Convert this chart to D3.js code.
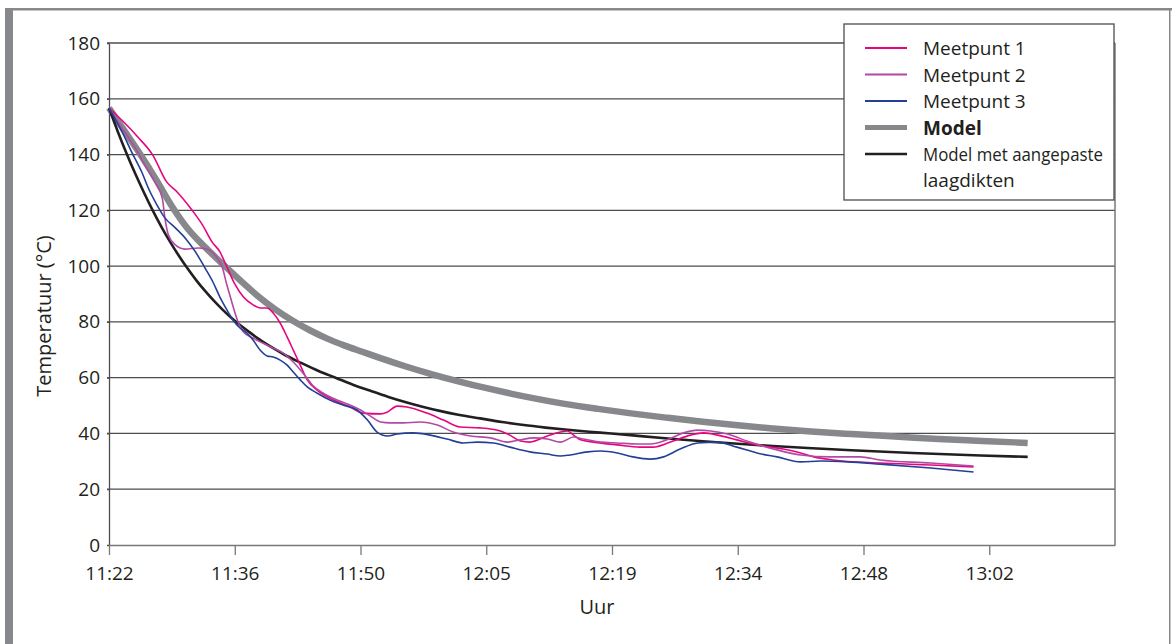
<!DOCTYPE html>
<html>
<head>
<meta charset="utf-8">
<script src="https://cdn.jsdelivr.net/npm/d3@7/dist/d3.min.js"></script>
<style>
    html, body { margin: 0; padding: 0; background: #fff; }
    svg { display: block; font-family: "Open Sans", "Noto Sans", sans-serif; }
</style>
</head>
<body>
<div id="chart"></div>
<script>
// x = minutes after 11:22, y = temperature in degrees C

const tickLabels = ["11:22", "11:36", "11:50", "12:05", "12:19", "12:34", "12:48", "13:02"];
const yTicks = [0, 20, 40, 60, 80, 100, 120, 140, 160, 180];

const meetpunt1 = [[0,156.7],[1.8,151.3],[3.3,146.3],[5.0,139.9],[6.6,130.2],[7.8,126.6],[9.5,120.1],[10.7,114.8],[11.8,108.7],[12.7,105.1],[13.5,99.7],[14.4,93.6],[15.4,88.9],[16.5,86.1],[17.3,85.0],[18.1,85.0],[18.8,83.2],[19.6,79.6],[20.4,74.6],[21.1,69.9],[21.9,64.5],[22.7,59.2],[23.8,55.6],[25.7,52.0],[27.6,49.5],[29.1,47.3],[31.1,47.0],[31.9,47.7],[33.0,49.8],[34.1,49.5],[36.4,47.3],[38.3,44.8],[40.2,42.3],[42.5,42.0],[44.8,40.9],[45.9,39.4],[47.1,37.3],[48.2,36.9],[50.2,39.1],[51.7,40.5],[52.5,40.9],[53.2,39.4],[54.0,37.7],[55.5,36.9],[58.2,35.9],[60.8,35.1],[62.3,35.1],[64.3,36.9],[66.6,39.4],[68.1,40.2],[69.7,39.4],[71.9,37.7],[74.2,35.9],[77.2,34.4],[79.2,33.0],[80.7,31.6],[82.9,30.5],[88.3,29.4],[94.1,28.7],[99.0,28.0]];

const meetpunt2 = [[0,156.7],[1.5,149.5],[3.0,142.4],[4.1,136.3],[5.3,129.8],[6.1,124.4],[6.4,117.3],[6.8,111.2],[7.6,107.6],[8.7,106.1],[10.2,106.5],[11.2,106.1],[12.1,104.0],[13.0,99.3],[13.5,93.2],[13.9,88.9],[14.7,80.7],[15.4,76.4],[16.5,74.2],[17.6,72.4],[18.8,70.6],[19.9,68.9],[21.1,65.6],[22.2,61.7],[23.4,57.0],[24.5,54.5],[26.1,52.0],[27.6,50.2],[28.8,48.4],[29.9,46.3],[31.1,44.1],[32.2,43.8],[33.7,43.8],[35.6,44.1],[37.6,43.0],[39.4,40.5],[41.4,39.1],[43.7,38.4],[45.6,36.9],[47.1,37.7],[48.6,38.4],[50.2,38.0],[51.7,36.9],[53.2,38.7],[54.3,38.0],[56.3,36.9],[58.2,36.6],[60.5,36.2],[62.0,36.2],[63.9,37.7],[65.8,40.2],[67.4,41.2],[68.9,40.9],[70.8,39.8],[73.4,36.9],[76.5,34.1],[79.2,32.3],[82.6,31.6],[86.0,31.6],[88.3,30.5],[94.1,29.4],[99.0,28.3]];

const meetpunt3 = [[0,156.7],[1.5,148.1],[2.6,140.9],[3.8,133.4],[4.5,128.0],[5.5,121.9],[6.4,117.3],[7.6,113.7],[8.9,109.4],[9.9,105.1],[11.0,99.3],[11.9,94.3],[12.7,88.9],[13.5,84.3],[14.2,80.7],[15.0,77.8],[15.8,76.0],[16.5,73.5],[17.3,69.9],[18.1,67.8],[18.8,67.4],[19.6,66.3],[20.4,64.5],[21.1,62.0],[21.9,59.2],[22.7,56.7],[23.8,54.5],[25.3,52.0],[26.8,50.2],[28.4,48.4],[29.6,44.8],[30.7,40.5],[31.9,39.1],[33.0,39.8],[34.8,40.2],[36.8,39.4],[38.7,38.0],[40.6,36.6],[42.2,36.9],[44.0,36.6],[45.9,35.1],[48.2,33.4],[50.2,32.6],[51.7,31.9],[52.8,32.3],[54.8,33.4],[56.3,33.7],[58.2,33.0],[60.0,31.6],[62.0,30.8],[63.5,31.6],[65.4,34.4],[67.4,36.6],[69.7,36.9],[71.9,35.1],[74.2,33.0],[76.5,31.6],[79.2,29.8],[81.5,30.1],[84.6,29.8],[88.3,29.0],[94.1,27.6],[99.0,26.2]];

const model = [[0,156.7],[1.8,148.4],[3.6,140.0],[5.4,131.0],[7.2,121.5],[9.0,113.5],[11.0,106.8],[13.0,100.8],[15.0,95.0],[17.0,89.4],[19.0,84.6],[21.0,80.5],[23.0,77.0],[25.0,74.0],[27.0,71.5],[29.0,69.3],[31.0,67.1],[34.0,64.0],[37.0,61.2],[40.0,58.7],[43.0,56.4],[46.0,54.3],[49.0,52.4],[52.0,50.7],[56.0,48.8],[60.0,47.1],[64.0,45.6],[68.0,44.2],[72.0,42.9],[76.0,41.8],[80.0,40.8],[85.0,39.8],[90.0,38.9],[95.0,38.0],[100.0,37.3],[105.2,36.6]];

const modelAangepast = [[0,156.7],[1,148.3],[2,140.5],[3,133.2],[4,126.4],[5,120.0],[6,114.1],[7,108.7],[8,103.7],[9,99.1],[10,94.9],[11,91.1],[12,87.6],[13,84.4],[14,81.5],[15,78.9],[16,76.5],[17,74.2],[18,72.1],[19,70.2],[20,68.4],[22,65.3],[24,62.4],[26,59.9],[28,57.4],[30,55.2],[32,53.1],[34,51.2],[36,49.5],[38,48.0],[40,46.7],[42.5,45.4],[45,44.1],[47.5,43.0],[50,42.1],[52.5,41.3],[55,40.6],[57.5,40.0],[60,39.3],[64,38.2],[68,37.2],[72,36.3],[76,35.5],[80,34.8],[85,34.0],[92,33.0],[99.8,32.1],[105.2,31.6]];

const seriesNames = ["Meetpunt 1", "Meetpunt 2", "Meetpunt 3", "Model", "Model met aangepaste laagdikten"];

const width = 1176;
const height = 644;
const plot = { left: 109, right: 1115, top: 43, bottom: 545 };
const tickStep = 14.4; // excel major unit 0.01 day

const series = [
    { name: seriesNames[3], data: model, color: "#87888b", width: 6.5, bold: true },
    { name: seriesNames[4], data: modelAangepast, color: "#231f20", width: 2.6 },
    { name: seriesNames[0], data: meetpunt1, color: "#e5067f", width: 1.6 },
    { name: seriesNames[1], data: meetpunt2, color: "#b04aa5", width: 1.6 },
    { name: seriesNames[2], data: meetpunt3, color: "#233f96", width: 1.6 }
];

const svg = d3.select("#chart").append("svg")
    .attr("width", width)
    .attr("height", height);

// outer frame
svg.append("rect").attr("x", 5).attr("y", 8).attr("width", 8).attr("height", height).attr("fill", "#87888b");
svg.append("rect").attr("x", 5).attr("y", 8).attr("width", 1167).attr("height", 2.5).attr("fill", "#87888b");
svg.append("rect").attr("x", 1169).attr("y", 8).attr("width", 1.5).attr("height", height).attr("fill", "#87888b");

const x = d3.scaleLinear().domain([0, tickStep * 8]).range([plot.left, plot.right]);
const y = d3.scaleLinear().domain([0, 180]).range([plot.bottom, plot.top]);

// gridlines
svg.append("g")
    .selectAll("line")
    .data(yTicks.filter(d => d > 0))
    .join("line")
    .attr("x1", plot.left - 2)
    .attr("x2", plot.right)
    .attr("y1", d => y(d))
    .attr("y2", d => y(d))
    .attr("stroke", "#4d4d4f")
    .attr("stroke-width", 1.3);

// right border
svg.append("line")
    .attr("x1", plot.right).attr("x2", plot.right)
    .attr("y1", plot.top).attr("y2", plot.bottom)
    .attr("stroke", "#77787b").attr("stroke-width", 1.5);

// y axis
const yAxis = svg.append("g")
    .attr("transform", `translate(${plot.left},0)`)
    .call(d3.axisLeft(y).tickValues(yTicks).tickSize(2).tickSizeOuter(0).tickPadding(7));
yAxis.select(".domain").attr("stroke", "#4d4d4f").attr("stroke-width", 1.3);
yAxis.selectAll(".tick line").attr("stroke", "#4d4d4f").attr("stroke-width", 1.3);
yAxis.selectAll(".tick text")
    .attr("font-size", 19)
    .attr("font-family", "'Open Sans', sans-serif")
    .attr("fill", "#231f20");

// x axis
const xAxis = svg.append("g")
    .attr("transform", `translate(0,${plot.bottom})`)
    .call(d3.axisBottom(x)
        .tickValues(d3.range(tickLabels.length).map(i => i * tickStep))
        .tickFormat((d, i) => tickLabels[i])
        .tickSize(10).tickSizeOuter(0).tickPadding(12));
xAxis.select(".domain").attr("stroke", "#77787b").attr("stroke-width", 1.5);
xAxis.selectAll(".tick line").attr("stroke", "#77787b").attr("stroke-width", 1.3);
xAxis.selectAll(".tick text")
    .attr("font-size", 19)
    .attr("font-family", "'Open Sans', sans-serif")
    .attr("fill", "#231f20");

// axis titles
svg.append("text")
    .attr("transform", `translate(51,${(plot.top + plot.bottom) / 2 + 22}) rotate(-90)`)
    .attr("text-anchor", "middle")
    .attr("font-size", 20)
    .attr("fill", "#231f20")
    .text("Temperatuur (°C)");

svg.append("text")
    .attr("x", 597)
    .attr("y", 614)
    .attr("text-anchor", "middle")
    .attr("font-size", 20)
    .attr("fill", "#231f20")
    .text("Uur");

// lines
const line = d3.line()
    .x(d => x(d[0]))
    .y(d => y(d[1]))
    .curve(d3.curveMonotoneX);

svg.append("g")
    .selectAll("path")
    .data(series)
    .join("path")
    .attr("d", d => line(d.data))
    .attr("fill", "none")
    .attr("stroke", d => d.color)
    .attr("stroke-width", d => d.width)
    .attr("stroke-linejoin", "round");

// legend
const legendOrder = [series[2], series[3], series[4], series[0], series[1]];
const legend = svg.append("g").attr("transform", "translate(844,24)");

legend.append("rect")
    .attr("width", 270)
    .attr("height", 176)
    .attr("fill", "#fff")
    .attr("stroke", "#4d4d4f")
    .attr("stroke-width", 1.3);

const item = legend.selectAll("g.item")
    .data(legendOrder)
    .join("g")
    .attr("class", "item")
    .attr("transform", (d, i) => `translate(0,${24 + i * 26.5})`);

item.append("line")
    .attr("x1", 21).attr("x2", 63)
    .attr("stroke", d => d.color)
    .attr("stroke-width", d => d.bold ? 5 : (d.width > 2 ? 2.6 : 1.8));

item.append("text")
    .attr("x", 79)
    .attr("y", 7)
    .attr("font-size", 19)
    .attr("font-weight", d => d.bold ? "bold" : "normal")
    .attr("fill", "#231f20")
    .each(function(d) {
        const words = d.name.split(" ");
        const t = d3.select(this);
        if (words.length > 3) {
            // narrower face in the original, squeeze the long first line a bit
            t.append("tspan").attr("x", 79)
                .attr("textLength", 180).attr("lengthAdjust", "spacingAndGlyphs")
                .text(words.slice(0, 3).join(" "));
            t.append("tspan").attr("x", 79).attr("dy", 26).text(words.slice(3).join(" "));
        } else {
            t.text(d.name);
        }
    });
</script>
</body>
</html>
